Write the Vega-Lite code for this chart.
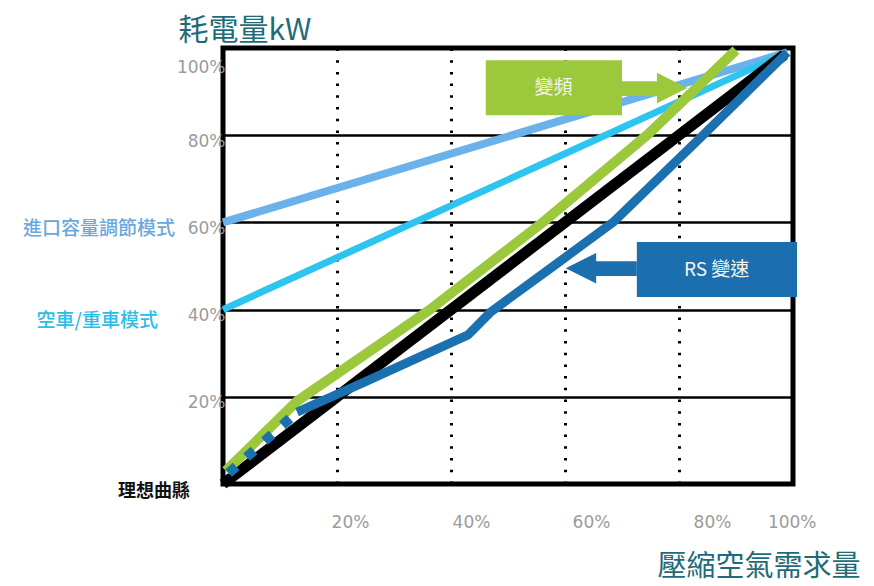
{
  "$schema": "https://vega.github.io/schema/vega-lite/v6.json",
  "width": 570,
  "height": 436,
  "autosize": {"type": "none"},
  "padding": {"left": 223, "top": 48, "right": 81, "bottom": 102},
  "background": "white",
  "config": {
    "view": {"stroke": "black", "strokeWidth": 5},
    "font": "Noto Sans CJK TC"
  },
  "datasets": {
    "lines": [
      {"series": "進口容量調節模式", "x": 0, "y": 0.6},
      {"series": "進口容量調節模式", "x": 0.99, "y": 0.99},
      {"series": "空車/重車模式", "x": 0, "y": 0.4},
      {"series": "空車/重車模式", "x": 0.99, "y": 0.99},
      {"series": "理想曲縣", "x": 0, "y": 0},
      {"series": "理想曲縣", "x": 0.985, "y": 0.985},
      {"series": "變頻", "x": 0.005, "y": 0.03},
      {"series": "變頻", "x": 0.13, "y": 0.19},
      {"series": "變頻", "x": 0.28, "y": 0.325},
      {"series": "變頻", "x": 0.363, "y": 0.4},
      {"series": "變頻", "x": 0.561, "y": 0.6},
      {"series": "變頻", "x": 0.744, "y": 0.8},
      {"series": "變頻", "x": 0.9, "y": 0.995},
      {"series": "RS 變速", "x": 0.13, "y": 0.165},
      {"series": "RS 變速", "x": 0.25, "y": 0.235},
      {"series": "RS 變速", "x": 0.43, "y": 0.342},
      {"series": "RS 變速", "x": 0.47, "y": 0.395},
      {"series": "RS 變速", "x": 0.58, "y": 0.5},
      {"series": "RS 變速", "x": 0.684, "y": 0.6},
      {"series": "RS 變速", "x": 0.842, "y": 0.8},
      {"series": "RS 變速", "x": 0.99, "y": 0.99},
      {"series": "RS 變速 低負載", "x": 0.01, "y": 0.025},
      {"series": "RS 變速 低負載", "x": 0.13, "y": 0.165}
    ],
    "boxes": [
      {"label": "變頻", "x": 0.461, "x2": 0.70, "y": 0.846, "y2": 0.972, "tx": 0.58, "ty": 0.909},
      {"label": "RS 變速", "x": 0.726, "x2": 1.007, "y": 0.429, "y2": 0.555, "tx": 0.866, "ty": 0.491}
    ],
    "shafts": [
      {"label": "變頻", "x": 0.70, "x2": 0.765, "y": 0.89, "y2": 0.924},
      {"label": "RS 變速", "x": 0.65, "x2": 0.726, "y": 0.477, "y2": 0.511}
    ],
    "heads": [
      {"label": "變頻", "dir": "right", "x": 0.788, "y": 0.908},
      {"label": "RS 變速", "dir": "left", "x": 0.628, "y": 0.495}
    ]
  },
  "layer": [
    {
      "data": {"name": "lines"},
      "transform": [{"filter": "datum.series == '進口容量調節模式'"}],
      "mark": {"type": "line", "color": "#6cb2ea", "strokeWidth": 8, "strokeCap": "butt"},
      "encoding": {
        "x": {
          "field": "x", "type": "quantitative",
          "scale": {"domain": [0, 1], "nice": false, "zero": false},
          "axis": {
            "values": [0.2, 0.4, 0.6, 0.8, 1],
            "format": ".0%",
            "title": "壓縮空氣需求量",
            "titleX": 434, "titleY": 82,
            "titleAlign": "left", "titleBaseline": "middle",
            "titleFontSize": 29, "titleFontWeight": "normal",
            "titleColor": "#1f6b7a", "titleFont": "Noto Sans CJK TC",
            "labelFont": "DejaVu Sans", "labelFontSize": 17, "labelColor": "#9b9b9b",
            "labelPadding": 30,
            "labelOffset": {"condition": [
              {"test": "datum.value < 0.3", "value": 13},
              {"test": "datum.value < 0.5", "value": 20},
              {"test": "datum.value < 0.7", "value": 26},
              {"test": "datum.value < 0.9", "value": 33}
            ], "value": 23},
            "ticks": false, "domain": false,
            "grid": true, "gridColor": "black", "gridWidth": 3, "gridDash": [2.5, 9.2]
          }
        },
        "y": {
          "field": "y", "type": "quantitative",
          "scale": {"domain": [0, 1], "nice": false, "zero": false},
          "axis": {
            "values": [0.2, 0.4, 0.6, 0.8, 1],
            "format": ".0%",
            "title": "耗電量kW",
            "titleAngle": 0,
            "titleX": -45, "titleY": -18,
            "titleAlign": "left", "titleBaseline": "middle",
            "titleFontSize": 30, "titleFontWeight": "normal",
            "titleColor": "#1f6b7a", "titleFont": "Noto Sans CJK TC",
            "labelFont": "DejaVu Sans", "labelFontSize": 17, "labelColor": "#9b9b9b",
            "labelPadding": -2,
            "labelOffset": {"condition": {"test": "datum.value > 0.9", "value": 19}, "value": 6},
            "ticks": false, "domain": false,
            "grid": true, "gridColor": "black", "gridWidth": 2.5
          }
        }
      }
    },
    {
      "data": {"name": "lines"},
      "transform": [{"filter": "datum.series == '空車/重車模式'"}],
      "mark": {"type": "line", "color": "#2dc4ef", "strokeWidth": 7, "strokeCap": "butt"},
      "encoding": {"x": {"field": "x", "type": "quantitative"}, "y": {"field": "y", "type": "quantitative"}}
    },
    {
      "data": {"name": "lines"},
      "transform": [{"filter": "datum.series == '理想曲縣'"}],
      "mark": {"type": "line", "color": "#000000", "strokeWidth": 11, "strokeCap": "butt"},
      "encoding": {"x": {"field": "x", "type": "quantitative"}, "y": {"field": "y", "type": "quantitative"}}
    },
    {
      "data": {"name": "lines"},
      "transform": [{"filter": "datum.series == '變頻'"}],
      "mark": {"type": "line", "color": "#9cc83c", "strokeWidth": 10, "strokeCap": "butt", "strokeJoin": "round"},
      "encoding": {"x": {"field": "x", "type": "quantitative"}, "y": {"field": "y", "type": "quantitative"}}
    },
    {
      "data": {"name": "lines"},
      "transform": [{"filter": "datum.series == 'RS 變速'"}],
      "mark": {"type": "line", "color": "#1b70b0", "strokeWidth": 9, "strokeCap": "butt", "strokeJoin": "round"},
      "encoding": {"x": {"field": "x", "type": "quantitative"}, "y": {"field": "y", "type": "quantitative"}}
    },
    {
      "data": {"name": "lines"},
      "transform": [{"filter": "datum.series == 'RS 變速 低負載'"}],
      "mark": {"type": "line", "color": "#1b70b0", "strokeWidth": 10, "strokeCap": "butt", "strokeDash": [10, 14]},
      "encoding": {"x": {"field": "x", "type": "quantitative"}, "y": {"field": "y", "type": "quantitative"}}
    },
    {
      "data": {"name": "lines"},
      "transform": [{"filter": "datum.series == '進口容量調節模式' && datum.x == 0"}],
      "mark": {"type": "text", "align": "right", "baseline": "middle", "dx": -48, "dy": 7, "fontSize": 19, "fontWeight": 500, "color": "#6aa7de", "font": "Noto Sans CJK TC"},
      "encoding": {"x": {"field": "x", "type": "quantitative"}, "y": {"field": "y", "type": "quantitative"}, "text": {"field": "series"}}
    },
    {
      "data": {"name": "lines"},
      "transform": [{"filter": "datum.series == '空車/重車模式' && datum.x == 0"}],
      "mark": {"type": "text", "align": "right", "baseline": "middle", "dx": -65, "dy": 11, "fontSize": 19, "fontWeight": 500, "color": "#2bbde8", "font": "Noto Sans CJK TC"},
      "encoding": {"x": {"field": "x", "type": "quantitative"}, "y": {"field": "y", "type": "quantitative"}, "text": {"field": "series"}}
    },
    {
      "data": {"name": "lines"},
      "transform": [{"filter": "datum.series == '理想曲縣' && datum.x == 0"}],
      "mark": {"type": "text", "align": "right", "baseline": "middle", "dx": -33, "dy": 8, "fontSize": 18, "fontWeight": "bold", "color": "#111111", "font": "Noto Sans CJK TC"},
      "encoding": {"x": {"field": "x", "type": "quantitative"}, "y": {"field": "y", "type": "quantitative"}, "text": {"field": "series"}}
    },
    {
      "data": {"name": "boxes"},
      "mark": {"type": "rect"},
      "encoding": {
        "x": {"field": "x", "type": "quantitative"}, "x2": {"field": "x2"},
        "y": {"field": "y", "type": "quantitative"}, "y2": {"field": "y2"},
        "color": {"field": "label", "type": "nominal", "scale": {"domain": ["變頻", "RS 變速"], "range": ["#9cc83c", "#1b6fae"]}, "legend": null}
      }
    },
    {
      "data": {"name": "shafts"},
      "mark": {"type": "rect"},
      "encoding": {
        "x": {"field": "x", "type": "quantitative"}, "x2": {"field": "x2"},
        "y": {"field": "y", "type": "quantitative"}, "y2": {"field": "y2"},
        "color": {"field": "label", "type": "nominal", "scale": {"domain": ["變頻", "RS 變速"], "range": ["#9cc83c", "#1b6fae"]}, "legend": null}
      }
    },
    {
      "data": {"name": "heads"},
      "mark": {"type": "point", "filled": true, "opacity": 1, "size": 930, "strokeWidth": 0},
      "encoding": {
        "x": {"field": "x", "type": "quantitative"},
        "y": {"field": "y", "type": "quantitative"},
        "shape": {"field": "dir", "type": "nominal", "scale": {"domain": ["right", "left"], "range": ["M-1,-1L1,0L-1,1Z", "M1,-1L-1,0L1,1Z"]}, "legend": null},
        "color": {"field": "label", "type": "nominal", "scale": {"domain": ["變頻", "RS 變速"], "range": ["#9cc83c", "#1b6fae"]}, "legend": null}
      }
    },
    {
      "data": {"name": "boxes"},
      "mark": {"type": "text", "align": "center", "baseline": "middle", "fontSize": 19, "color": "#f4f4ea", "font": "Noto Sans CJK TC"},
      "encoding": {
        "x": {"field": "tx", "type": "quantitative"},
        "y": {"field": "ty", "type": "quantitative"},
        "text": {"field": "label"}
      }
    }
  ]
}
